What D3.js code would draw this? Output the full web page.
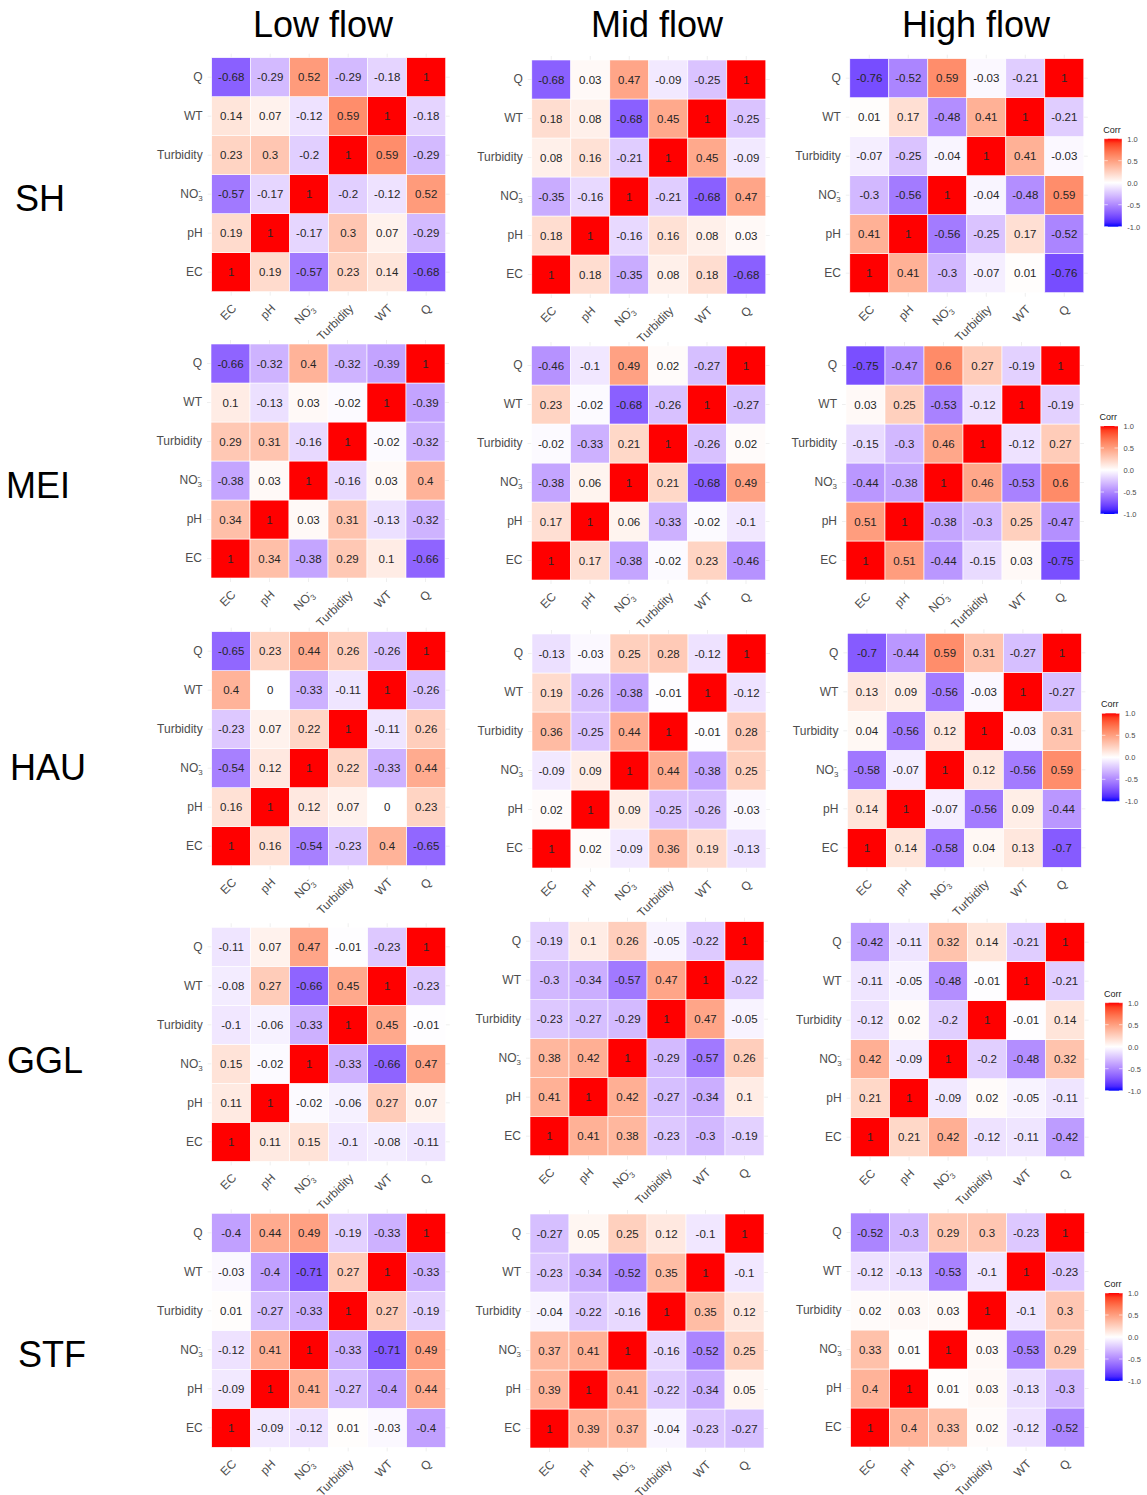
<!DOCTYPE html>
<html>
<head>
<meta charset="utf-8">
<script src="https://cdn.jsdelivr.net/npm/d3@7"></script>
<style>
  body { margin: 0; background: #fff; }
  svg { display: block; font-family: "Liberation Sans", Arial, sans-serif; }
</style>
</head>
<body>
<div id="chart"></div>
<script>
/*
	Correlation heatmaps per site and flow regime, drawn with d3.
*/

var variables = ['EC', 'pH', 'NO3', 'Turbidity', 'WT', 'Q'];
var flows = ['Low flow', 'Mid flow', 'High flow'];
var sites = ['SH', 'MEI', 'HAU', 'GGL', 'STF'];
var legendTicks = [1.0, 0.5, 0.0, -0.5, -1.0];

// pair order: EC-pH, EC-NO3, EC-Turb, EC-WT, EC-Q, pH-NO3, pH-Turb, pH-WT, pH-Q,
//             NO3-Turb, NO3-WT, NO3-Q, Turb-WT, Turb-Q, WT-Q
var shLow   = [0.19, -0.57, 0.23, 0.14, -0.68, -0.17, 0.3, 0.07, -0.29, -0.2, -0.12, 0.52, 0.59, -0.29, -0.18];
var shMid   = [0.18, -0.35, 0.08, 0.18, -0.68, -0.16, 0.16, 0.08, 0.03, -0.21, -0.68, 0.47, 0.45, -0.09, -0.25];
var shHigh  = [0.41, -0.3, -0.07, 0.01, -0.76, -0.56, -0.25, 0.17, -0.52, -0.04, -0.48, 0.59, 0.41, -0.03, -0.21];
var meiLow  = [0.34, -0.38, 0.29, 0.1, -0.66, 0.03, 0.31, -0.13, -0.32, -0.16, 0.03, 0.4, -0.02, -0.32, -0.39];
var meiMid  = [0.17, -0.38, -0.02, 0.23, -0.46, 0.06, -0.33, -0.02, -0.1, 0.21, -0.68, 0.49, -0.26, 0.02, -0.27];
var meiHigh = [0.51, -0.44, -0.15, 0.03, -0.75, -0.38, -0.3, 0.25, -0.47, 0.46, -0.53, 0.6, -0.12, 0.27, -0.19];
var hauLow  = [0.16, -0.54, -0.23, 0.4, -0.65, 0.12, 0.07, 0, 0.23, 0.22, -0.33, 0.44, -0.11, 0.26, -0.26];
var hauMid  = [0.02, -0.09, 0.36, 0.19, -0.13, 0.09, -0.25, -0.26, -0.03, 0.44, -0.38, 0.25, -0.01, 0.28, -0.12];
var hauHigh = [0.14, -0.58, 0.04, 0.13, -0.7, -0.07, -0.56, 0.09, -0.44, 0.12, -0.56, 0.59, -0.03, 0.31, -0.27];
var gglLow  = [0.11, 0.15, -0.1, -0.08, -0.11, -0.02, -0.06, 0.27, 0.07, -0.33, -0.66, 0.47, 0.45, -0.01, -0.23];
var gglMid  = [0.41, 0.38, -0.23, -0.3, -0.19, 0.42, -0.27, -0.34, 0.1, -0.29, -0.57, 0.26, 0.47, -0.05, -0.22];
var gglHigh = [0.21, 0.42, -0.12, -0.11, -0.42, -0.09, 0.02, -0.05, -0.11, -0.2, -0.48, 0.32, -0.01, 0.14, -0.21];
var stfLow  = [-0.09, -0.12, 0.01, -0.03, -0.4, 0.41, -0.27, -0.4, 0.44, -0.33, -0.71, 0.49, 0.27, -0.19, -0.33];
var stfMid  = [0.39, 0.37, -0.04, -0.23, -0.27, 0.41, -0.22, -0.34, 0.05, -0.16, -0.52, 0.25, 0.35, 0.12, -0.1];
var stfHigh = [0.4, 0.33, 0.02, -0.12, -0.52, 0.01, 0.03, -0.13, -0.3, 0.03, -0.53, 0.29, -0.1, 0.3, -0.23];

var panels = [
	[shLow, shMid, shHigh],
	[meiLow, meiMid, meiHigh],
	[hauLow, hauMid, hauHigh],
	[gglLow, gglMid, gglHigh],
	[stfLow, stfMid, stfHigh]
];

// layout (top-left corner of each tile grid)
var panelPos = [
	[[211.7, 57.7], [531.8, 60], [849.8, 58.7]],
	[[211, 344], [531.5, 346], [846, 346]],
	[[211.7, 631.7], [532, 634], [847.4, 633.3]],
	[[211.7, 927.3], [530, 921.7], [850.6, 922.7]],
	[[211.7, 1213.3], [530, 1214], [850.6, 1213]]
];
var titleX = [323, 657, 976];
var siteX = [15, 6, 10, 7, 18];
var siteBaseline = [211, 498, 780, 1073, 1367];
var size = 234;

var width = 1147, height = 1495;

var color = d3.scaleLinear()
	.domain([-1, 0, 1])
	.range(['blue', 'white', 'red'])
	.interpolate(d3.interpolateLab);

var svg = d3.select('#chart').append('svg')
	.attr('width', width)
	.attr('height', height);

svg.append('rect')
	.attr('width', width)
	.attr('height', height)
	.attr('fill', '#fff');

var defs = svg.append('defs');
var grad = defs.append('linearGradient')
	.attr('id', 'corrGrad')
	.attr('x1', 0).attr('y1', 1)
	.attr('x2', 0).attr('y2', 0);
d3.range(0, 21).forEach(function(k){
	var v = -1 + k * 0.1;
	grad.append('stop')
		.attr('offset', (k / 20 * 100) + '%')
		.attr('stop-color', color(v));
});

function toMatrix(pairs){
	var n = variables.length, m = [], k = 0, i, j;
	for (i = 0; i < n; i++){
		m.push([]);
		for (j = 0; j < n; j++) m[i].push(i === j ? 1 : null);
	}
	for (i = 0; i < n; i++){
		for (j = i + 1; j < n; j++){
			m[i][j] = m[j][i] = pairs[k++];
		}
	}
	return m;
}

function labelNO3(sel){
	sel.filter(function(d){ return d === 'NO3'; })
		.text(null)
		.each(function(){
			var t = d3.select(this);
			t.append('tspan').text('NO');
			t.append('tspan').attr('font-size', '8px').attr('dy', '3').text('3');
			t.append('tspan').attr('font-size', '8px').attr('dx', '-4.4').attr('dy', '-8').text('-');
			t.append('tspan').attr('font-size', '12px').attr('dy', '5').text('');
		});
}

// column titles
svg.selectAll('text.title')
	.data(flows)
	.enter().append('text')
	.attr('class', 'title')
	.attr('x', function(d, i){ return titleX[i]; })
	.attr('y', 37)
	.attr('text-anchor', 'middle')
	.attr('font-size', '36px')
	.attr('fill', '#000')
	.text(function(d){ return d; });

// site labels
svg.selectAll('text.site')
	.data(sites)
	.enter().append('text')
	.attr('class', 'site')
	.attr('x', function(d, i){ return siteX[i]; })
	.attr('y', function(d, i){ return siteBaseline[i]; })
	.attr('font-size', '36px')
	.attr('fill', '#000')
	.text(function(d){ return d; });

var x = d3.scaleBand().domain(variables).range([0, size]);
var y = d3.scaleBand().domain(variables).range([size, 0]);

panels.forEach(function(row, r){
	row.forEach(function(pairs, c){
		var m = toMatrix(pairs);
		var pos = panelPos[r][c];
		var g = svg.append('g')
			.attr('transform', 'translate(' + pos[0] + ',' + pos[1] + ')');

		// faint grid lines, only visible in the margin around the tiles
		var grid = g.append('g').attr('class', 'grid');
		grid.selectAll('line.v').data(variables).enter().append('line')
			.attr('x1', function(d){ return x(d) + x.bandwidth() / 2; })
			.attr('x2', function(d){ return x(d) + x.bandwidth() / 2; })
			.attr('y1', -4).attr('y2', size + 4)
			.attr('stroke', '#ebebeb').attr('stroke-width', 0.8);
		grid.selectAll('line.h').data(variables).enter().append('line')
			.attr('y1', function(d){ return y(d) + y.bandwidth() / 2; })
			.attr('y2', function(d){ return y(d) + y.bandwidth() / 2; })
			.attr('x1', -4).attr('x2', size + 4)
			.attr('stroke', '#ebebeb').attr('stroke-width', 0.8);

		var cells = [];
		variables.forEach(function(rv, i){
			variables.forEach(function(cv, j){
				cells.push({row: rv, col: cv, value: m[i][j]});
			});
		});

		g.selectAll('rect.cell')
			.data(cells)
			.enter().append('rect')
			.attr('class', 'cell')
			.attr('x', function(d){ return x(d.col); })
			.attr('y', function(d){ return y(d.row); })
			.attr('width', x.bandwidth())
			.attr('height', y.bandwidth())
			.attr('fill', function(d){ return color(d.value); })
			.attr('stroke', '#fff')
			.attr('stroke-width', 0.6);

		g.selectAll('text.val')
			.data(cells)
			.enter().append('text')
			.attr('class', 'val')
			.attr('x', function(d){ return x(d.col) + x.bandwidth() / 2; })
			.attr('y', function(d){ return y(d.row) + y.bandwidth() / 2; })
			.attr('dy', '0.36em')
			.attr('text-anchor', 'middle')
			.attr('font-size', '11.5px')
			.attr('fill', '#262626')
			.text(function(d){ return String(d.value); });

		var yAxis = g.append('g')
			.call(d3.axisLeft(y).tickSize(0).tickPadding(9));
		yAxis.select('.domain').remove();
		yAxis.selectAll('text')
			.attr('font-size', '12px')
			.attr('font-family', '"Liberation Sans", Arial, sans-serif')
			.attr('fill', '#4d4d4d')
			.call(labelNO3);

		var xAxis = g.append('g')
			.attr('transform', 'translate(0,' + size + ')')
			.call(d3.axisBottom(x).tickSize(0));
		xAxis.select('.domain').remove();
		xAxis.selectAll('text')
			.attr('y', 0)
			.attr('dy', '0.7em')
			.attr('transform', 'translate(0,11.5) rotate(-45)')
			.attr('text-anchor', 'end')
			.attr('font-size', '12px')
			.attr('font-family', '"Liberation Sans", Arial, sans-serif')
			.attr('fill', '#4d4d4d')
			.call(labelNO3);
	});

	// colour bar legend for the row
	var hp = panelPos[r][2];
	var lx = hp[0] + size + 20.5, ly = hp[1] + 80;
	var barW = 17.5, barH = 88;
	var lg = svg.append('g')
		.attr('transform', 'translate(' + lx + ',' + ly + ')');

	lg.append('text')
		.attr('x', -1)
		.attr('y', -6)
		.attr('font-size', '9px')
		.attr('fill', '#222')
		.text('Corr');

	lg.append('rect')
		.attr('width', barW)
		.attr('height', barH)
		.attr('fill', 'url(#corrGrad)');

	var ls = d3.scaleLinear().domain([-1, 1]).range([barH, 0]);
	lg.selectAll('line.tk')
		.data(legendTicks)
		.enter().append('line')
		.attr('x1', 0).attr('x2', 3.5)
		.attr('y1', function(d){ return ls(d); })
		.attr('y2', function(d){ return ls(d); })
		.attr('stroke', '#fff').attr('stroke-width', 0.6);
	lg.selectAll('line.tk2')
		.data(legendTicks)
		.enter().append('line')
		.attr('x1', barW - 3.5).attr('x2', barW)
		.attr('y1', function(d){ return ls(d); })
		.attr('y2', function(d){ return ls(d); })
		.attr('stroke', '#fff').attr('stroke-width', 0.6);

	var la = lg.append('g')
		.attr('transform', 'translate(' + barW + ',0)')
		.call(d3.axisRight(ls)
			.tickValues(legendTicks)
			.tickFormat(function(d){ return d.toFixed(1); })
			.tickSize(0)
			.tickPadding(5.5));
	la.select('.domain').remove();
	la.selectAll('text')
		.attr('font-size', '7.5px')
		.attr('font-family', '"Liberation Sans", Arial, sans-serif')
		.attr('fill', '#4d4d4d');
});
</script>
</body>
</html>
